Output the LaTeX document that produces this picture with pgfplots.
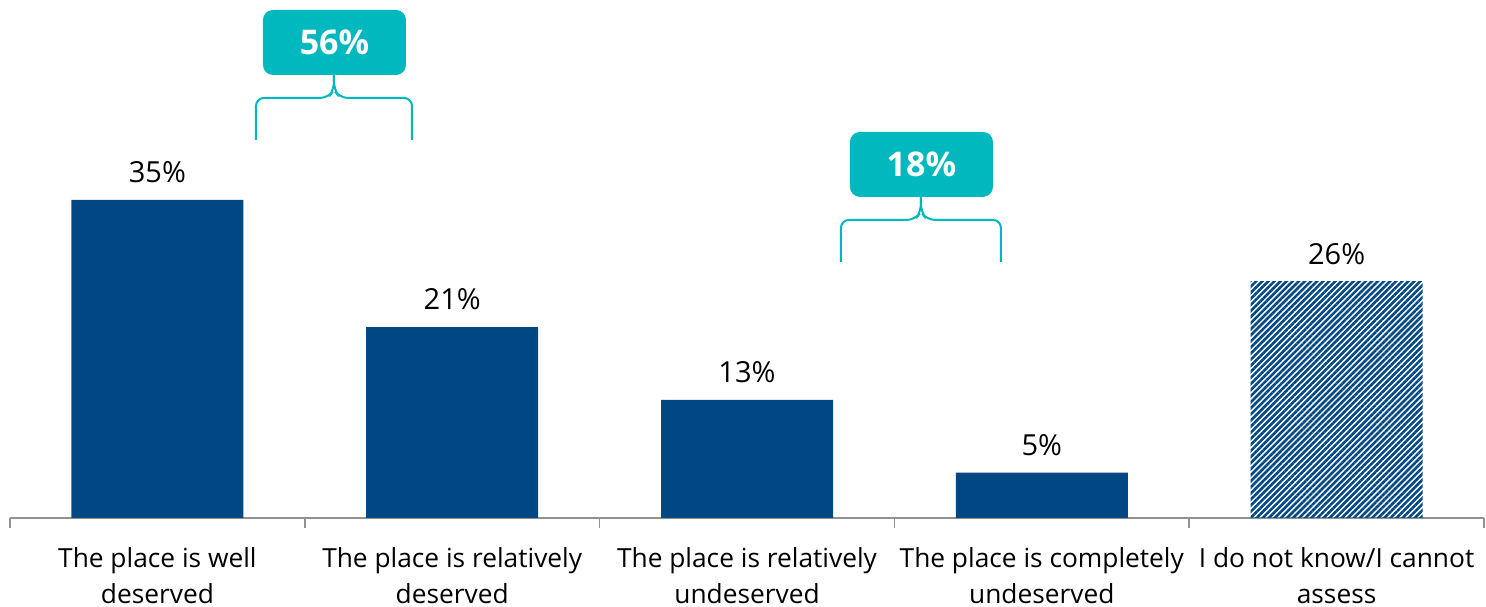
\documentclass[border=0pt]{standalone}
\usepackage{fontspec}
\setmainfont{Open Sans}
\usepackage{pgfplots}
\pgfplotsset{compat=1.18}
\usetikzlibrary{patterns.meta}
\definecolor{barblue}{RGB}{0,72,132}
\definecolor{tealc}{RGB}{0,184,190}
\definecolor{axgray}{RGB}{145,145,145}
\begin{document}
\begin{tikzpicture}
\path[use as bounding box] (0,0) rectangle (1486pt,607pt);
\begin{axis}[
  at={(10pt,89pt)}, anchor=south west,
  scale only axis, width=1474pt, height=518pt,
  ymin=0, ymax=57, xmin=-0.5, xmax=4.5,
  clip=false,
  axis y line=none,
  axis x line=bottom,
  x axis line style={draw=axgray, line width=1.5pt, -},
  ybar, bar width=172pt, bar shift=0pt,
  xtick={0,1,2,3,4},
  xticklabels={{The place is well\\deserved},{The place is relatively\\deserved},{The place is relatively\\undeserved},{The place is completely\\undeserved},{I do not know/I cannot\\assess}},
  minor xtick={-0.5,0.5,1.5,2.5,3.5,4.5},
  tick align=outside,
  major tick length=0pt,
  minor tick length=10pt,
  minor tick style={draw=axgray, line width=1.5pt},
  major tick style={draw=none},
  xticklabel style={align=center, anchor=north, inner sep=0pt, yshift=-29pt, font=\fontsize{26.3}{36}\selectfont, text=black},
  /pgf/number format/assume math mode=true,
  nodes near coords={\pgfmathprintnumber{\pgfplotspointmeta}\%},
  nodes near coords style={font=\fontsize{29}{34}\selectfont, text=black, anchor=south, inner sep=0pt, yshift=17pt},
]
\addplot[fill=barblue, draw=none] coordinates {(0,35) (1,21) (2,13) (3,5)};
\addplot[draw=none, pattern={Lines[angle=45, distance=4.3pt, line width=2.6pt]}, pattern color=barblue] coordinates {(4,26)};
\coordinate (C1) at (axis cs:0.599,46.22);
\coordinate (C2) at (axis cs:2.590,32.80);
\end{axis}
% braces and callouts
\foreach \C/\w/\txt in {C1/78/56\%, C2/80/18\%}{
  \draw[tealc, line width=2pt, rounded corners=8pt]
    ([shift={(-\w pt,-42pt)}]\C) -- ([shift={(-\w pt,0pt)}]\C) -- ([shift={(-6pt,0pt)}]\C) -- ([shift={(0pt,8pt)}]\C) -- ([shift={(0pt,23pt)}]\C);
  \draw[tealc, line width=2pt, rounded corners=8pt]
    ([shift={(\w pt,-42pt)}]\C) -- ([shift={(\w pt,0pt)}]\C) -- ([shift={(6pt,0pt)}]\C) -- ([shift={(0pt,8pt)}]\C) -- ([shift={(0pt,23pt)}]\C);
  \node[fill=tealc, rounded corners=10pt, minimum width=143pt, minimum height=65pt, inner sep=0pt, text=white, font=\fontsize{34}{40}\selectfont\bfseries] at ([shift={(0.5pt,55.5pt)}]\C) {\txt};
}
\end{tikzpicture}
\end{document}
